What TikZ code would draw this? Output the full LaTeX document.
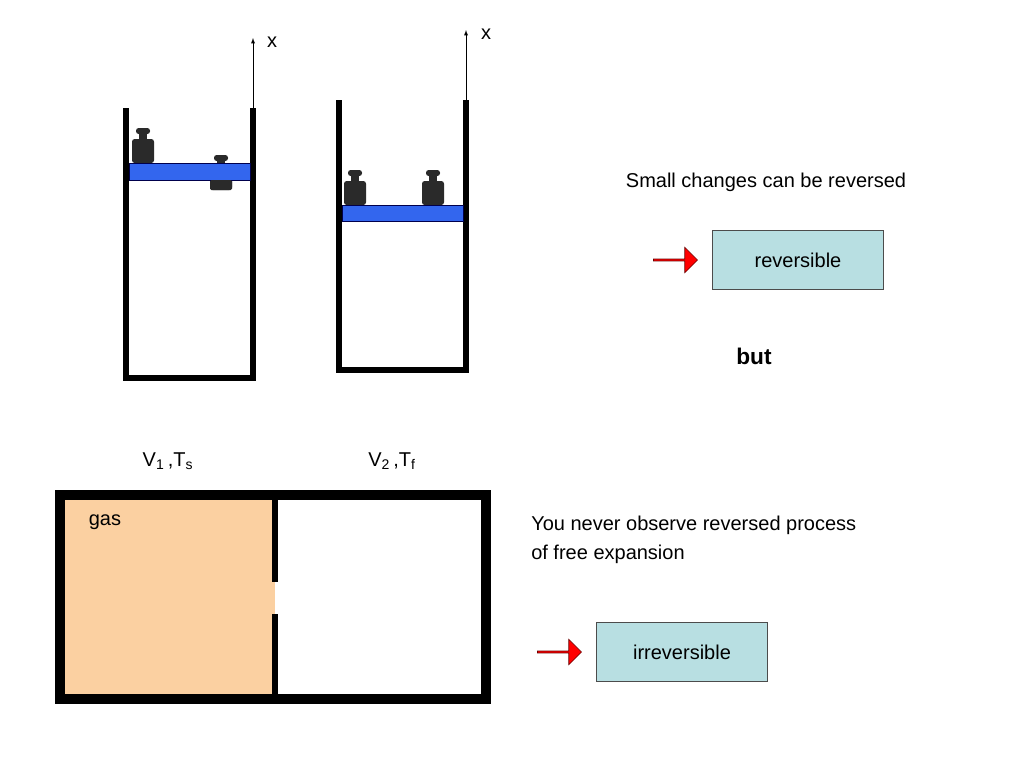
\documentclass[tikz,border=0pt]{standalone}
\usepackage{fontspec}
\setmainfont{Liberation Sans}
\usetikzlibrary{shapes.arrows}
\definecolor{piston}{HTML}{3366EE}
\definecolor{boxc}{HTML}{B8DFE2}
\definecolor{gasc}{HTML}{FBD0A1}
\definecolor{wt}{HTML}{2A2A2A}
\begin{document}
\begin{tikzpicture}[x=0.75pt,y=-0.75pt,
  wall/.style={line width=4.5pt},
  pist/.style={fill=piston,draw=black!70!blue,line width=0.5pt},
  lbl/.style={font=\fontsize{15}{18}\selectfont,inner sep=0pt},
  cbox/.style={draw=black!70,fill=boxc,minimum width=128pt,minimum height=44pt,font=\fontsize{15}{18}\selectfont},
  rarr/.style={single arrow,fill=red,draw=black!60!red,line width=0.5pt,minimum height=33pt,minimum width=19pt,single arrow head extend=3pt,inner sep=0pt}]
\useasboundingbox (0,0) rectangle (1024,768);
\newcommand{\myweight}[2]{%
  \fill[wt,rounded corners=2pt] (#1-11,#2) rectangle (#1+11,#2-24);
  \fill[wt] (#1-4,#2-24) rectangle (#1+4,#2-30);
  \fill[wt,rounded corners=2pt] (#1-7,#2-29) rectangle (#1+7,#2-35);}
% cylinder 1
\draw[wall] (126,108) -- (126,378) -- (253,378) -- (253,108);
\myweight{143}{163}
\begin{scope}\clip (205,140) rectangle (240,190); \myweight{221}{190}\end{scope}
\draw[pist] (129,163) rectangle (250,180);
\fill[wt,rounded corners=1pt] (210,180) rectangle (232,190);
\draw[-latex] (253,108) -- (253,38);
\node[lbl] at (272,42) {x};
% cylinder 2
\draw[wall] (339,100) -- (339,370) -- (466,370) -- (466,100);
\myweight{355}{205}
\myweight{433}{205}
\draw[pist] (342,205) rectangle (463,221);
\draw[-latex] (466,100) -- (466,30);
\node[lbl] at (486,34) {x};
% right texts
\node[lbl] (t1) at (766,182) {Small changes can be reversed};
\node[rarr] (a1) at (675,260) {};
\node[cbox] (r) at (798,260) {reversible};
\node[lbl,font=\fontsize{17}{20}\selectfont\bfseries] (b) at (754,356) {but};
% labels
\node[lbl] (v1) at (168,461) {V\textsubscript{1}\,,T\textsubscript{s}};
\node[lbl] (v2) at (392,461) {V\textsubscript{2}\,,T\textsubscript{f}};
% box
\fill[gasc] (60,495) rectangle (275,699);
\draw[line width=7.5pt] (60,495) rectangle (486,699);
\draw[line width=4.5pt] (275,495) -- (275,582);
\draw[line width=4.5pt] (275,614) -- (275,699);
\node[lbl] (g) at (105,522) {gas};
\node[lbl,anchor=west,align=left] (t2) at (531,540) {You never observe reversed process\\[4pt]of free expansion};
\node[rarr] (a2) at (559,652) {};
\node[cbox] (ir) at (682,652) {irreversible};
\end{tikzpicture}
\end{document}
